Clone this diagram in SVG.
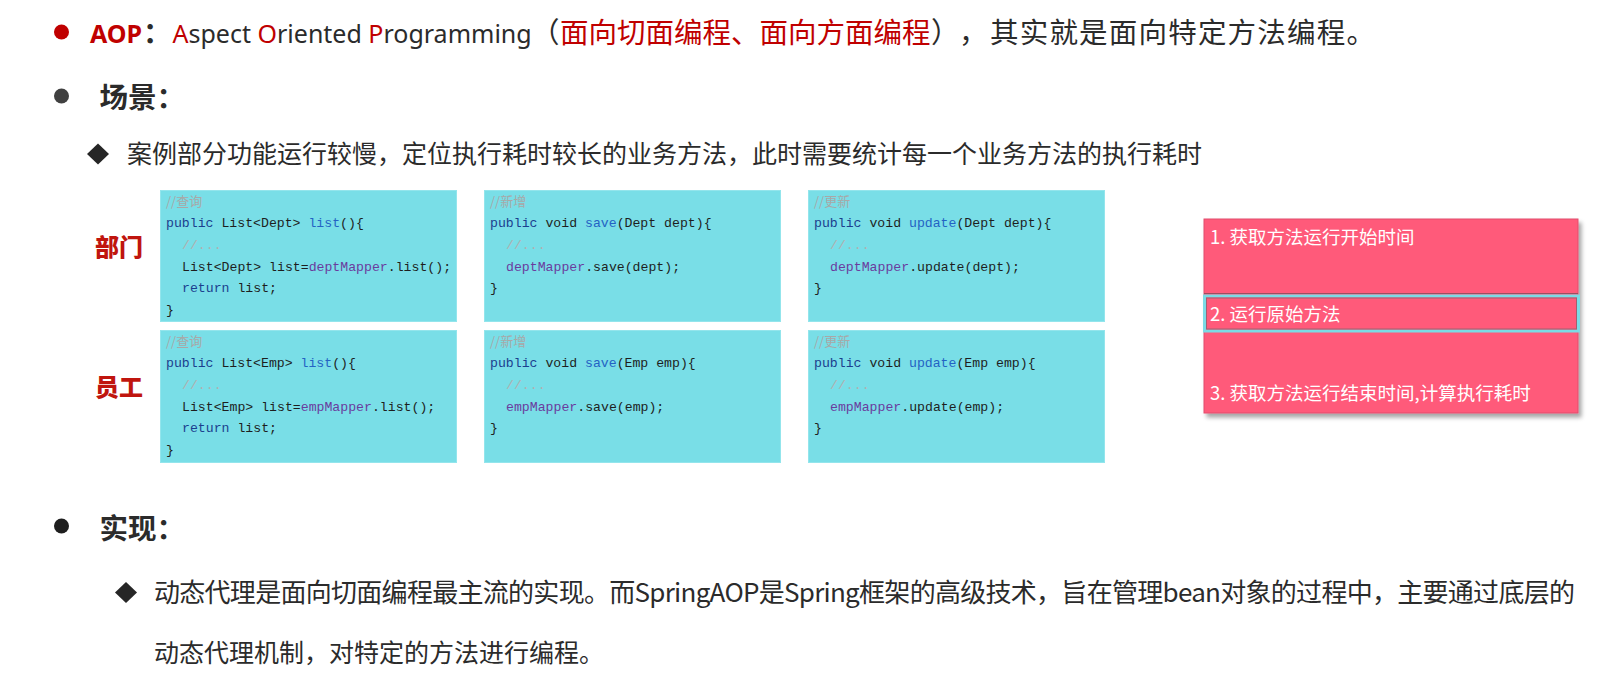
<svg xmlns="http://www.w3.org/2000/svg" width="1607" height="675" viewBox="0 0 1607 675">
<defs>
<style>
.cjk{font-family:'Noto Sans CJK SC','Noto Sans',sans-serif}
.lat{font-family:'Noto Sans','Noto Sans CJK SC',sans-serif}
.dark{fill:#2b2b2b}
.red{fill:#c00000}
.b{font-weight:bold}
.code{font-family:'Liberation Mono','DejaVu Sans Mono',monospace;font-size:13.2px;fill:#1e1e1e}
.cm{fill:#a8a8a8;font-family:'Noto Sans CJK SC',sans-serif;font-size:13px}
.dots{fill:#b0b0b0}
.kw{fill:#1b3f8e}
.fn{fill:#2463c4}
.fd{fill:#6a3c9e}
.box{fill:#79dee7;stroke:#93e5ec;stroke-width:1}
.lbl{font-family:'Noto Sans CJK SC',sans-serif;font-weight:900;font-size:24px;fill:#c0150e}
.wt{font-family:'Noto Sans CJK SC','Noto Sans',sans-serif;font-size:18.5px;fill:#ffffff}
</style>
<filter id="sh" x="-5%" y="-5%" width="115%" height="115%">
<feDropShadow dx="3" dy="4" stdDeviation="2" flood-color="#000" flood-opacity="0.35"/>
</filter>
</defs>
<rect width="1607" height="675" fill="#ffffff"/>

<g id="title">
<circle cx="61.5" cy="32" r="7.5" fill="#c00000"/>
<text y="42.5" font-size="25"><tspan x="90" class="lat b red">AOP</tspan><tspan x="143" class="cjk b dark" font-size="28.5">：</tspan><tspan x="172.5" class="lat dark"><tspan class="red">A</tspan>spect <tspan class="red">O</tspan>riented <tspan class="red">P</tspan>rogramming</tspan><tspan x="531" class="cjk dark" font-size="28.5">（</tspan><tspan x="560" class="cjk red" font-size="28.5">面向切面编程、面向方面编程</tspan><tspan x="931" class="cjk dark" font-size="28.5">）</tspan><tspan x="959" class="cjk dark" font-size="28.5">，</tspan><tspan x="990" class="cjk dark" font-size="28.5" letter-spacing="1.2">其实就是面向特定方法编程。</tspan></text>
</g>

<g id="scene">
<circle cx="61.5" cy="96" r="7.5" fill="#404040"/>
<text x="99.5" y="108" class="cjk b dark" font-size="28.5">场景：</text>
<polygon points="98,143.5 109,154 98,164.5 87,154" fill="#262626"/>
<text x="127" y="163" class="cjk dark" font-size="25">案例部分功能运行较慢，定位执行耗时较长的业务方法，此时需要统计每一个业务方法的执行耗时</text>
</g>

<g id="labels">
<text x="95" y="255.5" class="lbl">部门</text>
<text x="95" y="396" class="lbl">员工</text>
</g>

<g id="code-dept-list">
<rect x="160.5" y="190.5" width="296" height="131" class="box"/>
<text class="code">
<tspan x="166" y="205.5" class="cm">//查询</tspan>
<tspan x="166" y="227"><tspan class="kw">public</tspan> List&lt;Dept&gt; <tspan class="fn">list</tspan>(){</tspan>
<tspan x="182" y="249" class="dots">//...</tspan>
<tspan x="182" y="270.5">List&lt;Dept&gt; list=<tspan class="fd">deptMapper</tspan>.list();</tspan>
<tspan x="182" y="292"><tspan class="kw">return</tspan> list;</tspan>
<tspan x="166" y="313.5">}</tspan>
</text>
</g>

<g id="code-dept-save">
<rect x="484.5" y="190.5" width="296" height="131" class="box"/>
<text class="code">
<tspan x="490" y="205.5" class="cm">//新增</tspan>
<tspan x="490" y="227"><tspan class="kw">public</tspan> void <tspan class="fn">save</tspan>(Dept dept){</tspan>
<tspan x="506" y="249" class="dots">//...</tspan>
<tspan x="506" y="270.5"><tspan class="fd">deptMapper</tspan>.save(dept);</tspan>
<tspan x="490" y="292">}</tspan>
</text>
</g>

<g id="code-dept-update">
<rect x="808.5" y="190.5" width="296" height="131" class="box"/>
<text class="code">
<tspan x="814" y="205.5" class="cm">//更新</tspan>
<tspan x="814" y="227"><tspan class="kw">public</tspan> void <tspan class="fn">update</tspan>(Dept dept){</tspan>
<tspan x="830" y="249" class="dots">//...</tspan>
<tspan x="830" y="270.5"><tspan class="fd">deptMapper</tspan>.update(dept);</tspan>
<tspan x="814" y="292">}</tspan>
</text>
</g>

<g id="code-emp-list">
<rect x="160.5" y="330.5" width="296" height="132" class="box"/>
<text class="code">
<tspan x="166" y="345.5" class="cm">//查询</tspan>
<tspan x="166" y="367"><tspan class="kw">public</tspan> List&lt;Emp&gt; <tspan class="fn">list</tspan>(){</tspan>
<tspan x="182" y="389" class="dots">//...</tspan>
<tspan x="182" y="410.5">List&lt;Emp&gt; list=<tspan class="fd">empMapper</tspan>.list();</tspan>
<tspan x="182" y="432"><tspan class="kw">return</tspan> list;</tspan>
<tspan x="166" y="453.5">}</tspan>
</text>
</g>

<g id="code-emp-save">
<rect x="484.5" y="330.5" width="296" height="132" class="box"/>
<text class="code">
<tspan x="490" y="345.5" class="cm">//新增</tspan>
<tspan x="490" y="367"><tspan class="kw">public</tspan> void <tspan class="fn">save</tspan>(Emp emp){</tspan>
<tspan x="506" y="389" class="dots">//...</tspan>
<tspan x="506" y="410.5"><tspan class="fd">empMapper</tspan>.save(emp);</tspan>
<tspan x="490" y="432">}</tspan>
</text>
</g>

<g id="code-emp-update">
<rect x="808.5" y="330.5" width="296" height="132" class="box"/>
<text class="code">
<tspan x="814" y="345.5" class="cm">//更新</tspan>
<tspan x="814" y="367"><tspan class="kw">public</tspan> void <tspan class="fn">update</tspan>(Emp emp){</tspan>
<tspan x="830" y="389" class="dots">//...</tspan>
<tspan x="830" y="410.5"><tspan class="fd">empMapper</tspan>.update(emp);</tspan>
<tspan x="814" y="432">}</tspan>
</text>
</g>

<g id="timing-box">
<rect x="1204" y="219" width="374" height="194" fill="#ff5a7a" stroke="#e24d6d" stroke-width="1" filter="url(#sh)"/>
<line x1="1204" y1="293.5" x2="1578" y2="293.5" stroke="#9a4f60" stroke-width="1"/>
<rect x="1204.5" y="296" width="374" height="35" fill="#ff5a7a" stroke="#7bdbe5" stroke-width="3"/>
<rect x="1206.5" y="298" width="370" height="31" fill="none" stroke="#a06070" stroke-width="1"/>
<text x="1210" y="244" class="wt">1. 获取方法运行开始时间</text>
<text x="1210" y="321" class="wt">2. 运行原始方法</text>
<text x="1210" y="399.5" class="wt">3. 获取方法运行结束时间,计算执行耗时</text>
</g>

<g id="impl">
<circle cx="61.5" cy="526" r="7.5" fill="#1e1e1e"/>
<text x="99.5" y="539" class="cjk b dark" font-size="28.5">实现：</text>
<polygon points="126,582 137,592.5 126,603 115,592.5" fill="#262626"/>
<text x="154" y="602" class="cjk dark" font-size="26" textLength="1421" lengthAdjust="spacing">动态代理是面向切面编程最主流的实现。而SpringAOP是Spring框架的高级技术，旨在管理bean对象的过程中，主要通过底层的</text>
<text x="154" y="662" class="cjk dark" font-size="25">动态代理机制，对特定的方法进行编程。</text>
</g>

<g id="connectors"/>
</svg>
